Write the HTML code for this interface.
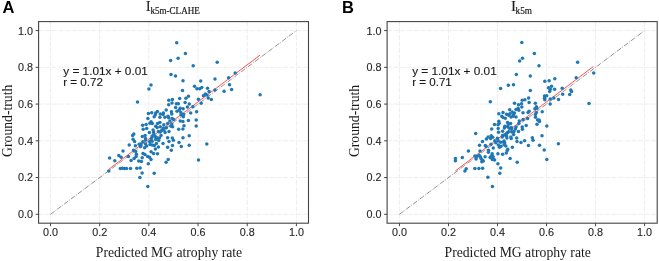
<!DOCTYPE html>
<html><head><meta charset="utf-8"><style>
*{margin:0;padding:0}
html,body{width:659px;height:261px;background:#fff;overflow:hidden}
svg{display:block;will-change:transform}
.g{stroke:#eeeeee;stroke-width:1.0;stroke-dasharray:5.2 1.4;fill:none}
.id{stroke:#777;stroke-width:0.8;stroke-dasharray:5.1 1.3 0.8 1.3;fill:none}
.rg{stroke:#ff3c3c;stroke-width:0.9;fill:none}
.box{fill:none;stroke:#444;stroke-width:1.1}
.tk{stroke:#444;stroke-width:1}
.dots circle{fill:#1f77b4}
.tl{font-family:"Liberation Sans",sans-serif;font-size:10.3px;fill:#262626;stroke:#262626;stroke-width:0.12}
.an{font-family:"Liberation Sans",sans-serif;font-size:10px;fill:#1a1a1a;stroke:#1a1a1a;stroke-width:0.12}
.ti{font-family:"Liberation Serif",serif;font-size:13.6px;fill:#1a1a1a;stroke:#1a1a1a;stroke-width:0.2}
.sub{font-size:9.6px}
.xl{font-family:"Liberation Serif",serif;font-size:13.7px;fill:#1a1a1a}
.yl{font-family:"Liberation Serif",serif;font-size:13.7px;fill:#1a1a1a}
.lt{font-family:"Liberation Sans",sans-serif;font-size:16.5px;font-weight:bold;fill:#000}
</style></head>
<body><svg width="659" height="261" viewBox="0 0 659 261">
<line x1="50.50" y1="21.60" x2="50.50" y2="223.20" class="g"/>
<line x1="38.60" y1="214.30" x2="308.50" y2="214.30" class="g"/>
<line x1="99.68" y1="21.60" x2="99.68" y2="223.20" class="g"/>
<line x1="38.60" y1="177.56" x2="308.50" y2="177.56" class="g"/>
<line x1="148.86" y1="21.60" x2="148.86" y2="223.20" class="g"/>
<line x1="38.60" y1="140.82" x2="308.50" y2="140.82" class="g"/>
<line x1="198.04" y1="21.60" x2="198.04" y2="223.20" class="g"/>
<line x1="38.60" y1="104.08" x2="308.50" y2="104.08" class="g"/>
<line x1="247.22" y1="21.60" x2="247.22" y2="223.20" class="g"/>
<line x1="38.60" y1="67.34" x2="308.50" y2="67.34" class="g"/>
<line x1="296.40" y1="21.60" x2="296.40" y2="223.20" class="g"/>
<line x1="38.60" y1="30.60" x2="308.50" y2="30.60" class="g"/>
<line x1="50.50" y1="214.30" x2="296.40" y2="30.60" class="id"/>
<line x1="108.90" y1="169.19" x2="260.01" y2="55.18" class="rg"/>
<g class="dots"><circle cx="176.7" cy="42.7" r="1.75"/><circle cx="185.4" cy="53.6" r="1.75"/><circle cx="178.1" cy="58.3" r="1.75"/><circle cx="170.6" cy="60.5" r="1.75"/><circle cx="193.2" cy="65.8" r="1.75"/><circle cx="217.2" cy="62.3" r="1.75"/><circle cx="171.0" cy="74.5" r="1.75"/><circle cx="175.5" cy="76.0" r="1.75"/><circle cx="183.0" cy="80.7" r="1.75"/><circle cx="200.7" cy="81.1" r="1.75"/><circle cx="215.0" cy="79.0" r="1.75"/><circle cx="151.0" cy="85.0" r="1.75"/><circle cx="148.9" cy="88.9" r="1.75"/><circle cx="235.2" cy="72.9" r="1.75"/><circle cx="228.6" cy="77.7" r="1.75"/><circle cx="229.5" cy="84.8" r="1.75"/><circle cx="231.6" cy="89.6" r="1.75"/><circle cx="224.1" cy="91.3" r="1.75"/><circle cx="214.9" cy="90.0" r="1.75"/><circle cx="260.1" cy="94.7" r="1.75"/><circle cx="194.5" cy="86.2" r="1.75"/><circle cx="196.9" cy="88.8" r="1.75"/><circle cx="199.7" cy="88.7" r="1.75"/><circle cx="201.8" cy="87.6" r="1.75"/><circle cx="207.5" cy="88.2" r="1.75"/><circle cx="209.1" cy="91.4" r="1.75"/><circle cx="182.5" cy="90.4" r="1.75"/><circle cx="188.4" cy="96.2" r="1.75"/><circle cx="185.9" cy="98.3" r="1.75"/><circle cx="179.7" cy="98.4" r="1.75"/><circle cx="198.4" cy="99.2" r="1.75"/><circle cx="203.4" cy="95.8" r="1.75"/><circle cx="205.4" cy="94.1" r="1.75"/><circle cx="207.0" cy="95.0" r="1.75"/><circle cx="208.2" cy="98.0" r="1.75"/><circle cx="211.3" cy="99.4" r="1.75"/><circle cx="137.5" cy="101.9" r="1.75"/><circle cx="168.8" cy="100.2" r="1.75"/><circle cx="172.4" cy="99.6" r="1.75"/><circle cx="172.0" cy="102.9" r="1.75"/><circle cx="168.7" cy="104.8" r="1.75"/><circle cx="176.4" cy="103.7" r="1.75"/><circle cx="178.3" cy="103.7" r="1.75"/><circle cx="185.1" cy="102.5" r="1.75"/><circle cx="175.6" cy="107.5" r="1.75"/><circle cx="180.2" cy="108.3" r="1.75"/><circle cx="183.1" cy="108.8" r="1.75"/><circle cx="166.2" cy="110.0" r="1.75"/><circle cx="171.4" cy="111.7" r="1.75"/><circle cx="171.8" cy="114.1" r="1.75"/><circle cx="177.0" cy="111.3" r="1.75"/><circle cx="179.1" cy="110.2" r="1.75"/><circle cx="180.9" cy="112.5" r="1.75"/><circle cx="148.4" cy="113.5" r="1.75"/><circle cx="151.7" cy="112.7" r="1.75"/><circle cx="155.7" cy="112.9" r="1.75"/><circle cx="157.4" cy="111.6" r="1.75"/><circle cx="160.3" cy="114.0" r="1.75"/><circle cx="163.4" cy="112.9" r="1.75"/><circle cx="155.3" cy="114.8" r="1.75"/><circle cx="163.0" cy="114.4" r="1.75"/><circle cx="168.0" cy="116.2" r="1.75"/><circle cx="183.6" cy="114.4" r="1.75"/><circle cx="189.3" cy="104.1" r="1.75"/><circle cx="201.2" cy="103.3" r="1.75"/><circle cx="187.4" cy="107.1" r="1.75"/><circle cx="192.8" cy="106.7" r="1.75"/><circle cx="190.7" cy="112.9" r="1.75"/><circle cx="196.6" cy="111.7" r="1.75"/><circle cx="147.9" cy="118.4" r="1.75"/><circle cx="154.2" cy="116.7" r="1.75"/><circle cx="159.9" cy="117.2" r="1.75"/><circle cx="164.9" cy="117.2" r="1.75"/><circle cx="168.7" cy="117.8" r="1.75"/><circle cx="172.2" cy="118.6" r="1.75"/><circle cx="173.7" cy="119.4" r="1.75"/><circle cx="181.0" cy="114.8" r="1.75"/><circle cx="183.3" cy="116.7" r="1.75"/><circle cx="151.1" cy="121.7" r="1.75"/><circle cx="149.9" cy="123.3" r="1.75"/><circle cx="152.3" cy="123.6" r="1.75"/><circle cx="142.6" cy="125.2" r="1.75"/><circle cx="146.1" cy="124.5" r="1.75"/><circle cx="157.6" cy="123.6" r="1.75"/><circle cx="159.9" cy="122.4" r="1.75"/><circle cx="155.7" cy="126.3" r="1.75"/><circle cx="157.2" cy="127.4" r="1.75"/><circle cx="160.3" cy="126.7" r="1.75"/><circle cx="163.8" cy="124.7" r="1.75"/><circle cx="167.6" cy="123.6" r="1.75"/><circle cx="169.9" cy="120.9" r="1.75"/><circle cx="171.8" cy="124.0" r="1.75"/><circle cx="171.0" cy="126.3" r="1.75"/><circle cx="172.6" cy="126.7" r="1.75"/><circle cx="180.2" cy="120.9" r="1.75"/><circle cx="182.9" cy="121.5" r="1.75"/><circle cx="184.0" cy="125.7" r="1.75"/><circle cx="163.4" cy="128.2" r="1.75"/><circle cx="166.4" cy="127.8" r="1.75"/><circle cx="178.7" cy="129.3" r="1.75"/><circle cx="182.9" cy="129.0" r="1.75"/><circle cx="188.4" cy="120.5" r="1.75"/><circle cx="196.2" cy="120.1" r="1.75"/><circle cx="196.2" cy="125.9" r="1.75"/><circle cx="133.8" cy="134.0" r="1.75"/><circle cx="132.6" cy="135.6" r="1.75"/><circle cx="133.1" cy="139.3" r="1.75"/><circle cx="134.6" cy="141.6" r="1.75"/><circle cx="129.2" cy="145.0" r="1.75"/><circle cx="135.4" cy="145.7" r="1.75"/><circle cx="139.2" cy="144.3" r="1.75"/><circle cx="172.3" cy="137.9" r="1.75"/><circle cx="173.4" cy="140.2" r="1.75"/><circle cx="172.5" cy="145.6" r="1.75"/><circle cx="171.3" cy="150.2" r="1.75"/><circle cx="151.1" cy="151.8" r="1.75"/><circle cx="133.6" cy="150.2" r="1.75"/><circle cx="135.7" cy="151.4" r="1.75"/><circle cx="189.2" cy="135.7" r="1.75"/><circle cx="183.0" cy="137.8" r="1.75"/><circle cx="179.0" cy="142.6" r="1.75"/><circle cx="189.2" cy="145.2" r="1.75"/><circle cx="181.3" cy="146.6" r="1.75"/><circle cx="206.8" cy="144.1" r="1.75"/><circle cx="123.0" cy="150.9" r="1.75"/><circle cx="109.6" cy="158.1" r="1.75"/><circle cx="114.8" cy="160.7" r="1.75"/><circle cx="118.8" cy="155.4" r="1.75"/><circle cx="121.1" cy="157.3" r="1.75"/><circle cx="128.4" cy="156.5" r="1.75"/><circle cx="136.4" cy="154.2" r="1.75"/><circle cx="136.1" cy="156.5" r="1.75"/><circle cx="134.1" cy="158.4" r="1.75"/><circle cx="131.1" cy="160.6" r="1.75"/><circle cx="138.7" cy="161.1" r="1.75"/><circle cx="141.4" cy="161.5" r="1.75"/><circle cx="143.0" cy="153.5" r="1.75"/><circle cx="144.9" cy="154.6" r="1.75"/><circle cx="142.2" cy="157.7" r="1.75"/><circle cx="147.6" cy="156.5" r="1.75"/><circle cx="149.5" cy="157.3" r="1.75"/><circle cx="151.0" cy="159.4" r="1.75"/><circle cx="153.6" cy="153.5" r="1.75"/><circle cx="148.3" cy="163.8" r="1.75"/><circle cx="157.5" cy="153.8" r="1.75"/><circle cx="168.2" cy="159.6" r="1.75"/><circle cx="166.1" cy="162.3" r="1.75"/><circle cx="198.5" cy="160.0" r="1.75"/><circle cx="108.8" cy="171.0" r="1.75"/><circle cx="120.3" cy="168.5" r="1.75"/><circle cx="122.3" cy="168.3" r="1.75"/><circle cx="124.3" cy="168.5" r="1.75"/><circle cx="126.5" cy="168.5" r="1.75"/><circle cx="130.5" cy="168.5" r="1.75"/><circle cx="136.8" cy="168.2" r="1.75"/><circle cx="140.1" cy="168.1" r="1.75"/><circle cx="142.1" cy="172.9" r="1.75"/><circle cx="139.9" cy="177.4" r="1.75"/><circle cx="154.2" cy="173.3" r="1.75"/><circle cx="147.8" cy="186.6" r="1.75"/><circle cx="143.2" cy="129.2" r="1.75"/><circle cx="146.7" cy="128.5" r="1.75"/><circle cx="149.4" cy="132.4" r="1.75"/><circle cx="153.1" cy="130.1" r="1.75"/><circle cx="153.6" cy="131.9" r="1.75"/><circle cx="153.8" cy="134.0" r="1.75"/><circle cx="152.2" cy="136.1" r="1.75"/><circle cx="151.5" cy="138.1" r="1.75"/><circle cx="155.2" cy="136.5" r="1.75"/><circle cx="157.0" cy="137.7" r="1.75"/><circle cx="158.4" cy="131.5" r="1.75"/><circle cx="160.3" cy="131.9" r="1.75"/><circle cx="161.7" cy="130.5" r="1.75"/><circle cx="164.0" cy="130.1" r="1.75"/><circle cx="165.1" cy="132.4" r="1.75"/><circle cx="163.5" cy="128.3" r="1.75"/><circle cx="161.0" cy="135.4" r="1.75"/><circle cx="159.4" cy="138.1" r="1.75"/><circle cx="169.0" cy="131.5" r="1.75"/><circle cx="167.6" cy="137.7" r="1.75"/><circle cx="142.3" cy="136.5" r="1.75"/><circle cx="145.1" cy="135.6" r="1.75"/><circle cx="145.5" cy="138.6" r="1.75"/><circle cx="145.5" cy="139.9" r="1.75"/><circle cx="142.8" cy="141.8" r="1.75"/><circle cx="140.9" cy="144.1" r="1.75"/><circle cx="140.6" cy="146.6" r="1.75"/><circle cx="144.6" cy="147.8" r="1.75"/><circle cx="145.5" cy="144.1" r="1.75"/><circle cx="146.7" cy="145.9" r="1.75"/><circle cx="149.7" cy="141.8" r="1.75"/><circle cx="151.1" cy="139.9" r="1.75"/><circle cx="152.2" cy="141.3" r="1.75"/><circle cx="150.1" cy="144.5" r="1.75"/><circle cx="152.2" cy="145.0" r="1.75"/><circle cx="154.3" cy="145.5" r="1.75"/><circle cx="155.7" cy="139.6" r="1.75"/><circle cx="158.7" cy="140.6" r="1.75"/><circle cx="156.4" cy="143.6" r="1.75"/><circle cx="158.4" cy="147.1" r="1.75"/><circle cx="155.4" cy="148.9" r="1.75"/><circle cx="163.0" cy="143.6" r="1.75"/><circle cx="167.6" cy="147.3" r="1.75"/><circle cx="169.0" cy="141.5" r="1.75"/></g>
<rect x="38.60" y="21.60" width="269.90" height="201.60" class="box"/>
<line x1="50.50" y1="223.20" x2="50.50" y2="226.20" class="tk"/>
<text x="43.00" y="235.90" class="tl" textLength="15.0" lengthAdjust="spacingAndGlyphs">0.0</text>
<line x1="35.60" y1="214.30" x2="38.60" y2="214.30" class="tk"/>
<text x="17.90" y="218.20" class="tl" textLength="15.0" lengthAdjust="spacingAndGlyphs">0.0</text>
<line x1="99.68" y1="223.20" x2="99.68" y2="226.20" class="tk"/>
<text x="92.18" y="235.90" class="tl" textLength="15.0" lengthAdjust="spacingAndGlyphs">0.2</text>
<line x1="35.60" y1="177.56" x2="38.60" y2="177.56" class="tk"/>
<text x="17.90" y="181.46" class="tl" textLength="15.0" lengthAdjust="spacingAndGlyphs">0.2</text>
<line x1="148.86" y1="223.20" x2="148.86" y2="226.20" class="tk"/>
<text x="141.36" y="235.90" class="tl" textLength="15.0" lengthAdjust="spacingAndGlyphs">0.4</text>
<line x1="35.60" y1="140.82" x2="38.60" y2="140.82" class="tk"/>
<text x="17.90" y="144.72" class="tl" textLength="15.0" lengthAdjust="spacingAndGlyphs">0.4</text>
<line x1="198.04" y1="223.20" x2="198.04" y2="226.20" class="tk"/>
<text x="190.54" y="235.90" class="tl" textLength="15.0" lengthAdjust="spacingAndGlyphs">0.6</text>
<line x1="35.60" y1="104.08" x2="38.60" y2="104.08" class="tk"/>
<text x="17.90" y="107.98" class="tl" textLength="15.0" lengthAdjust="spacingAndGlyphs">0.6</text>
<line x1="247.22" y1="223.20" x2="247.22" y2="226.20" class="tk"/>
<text x="239.72" y="235.90" class="tl" textLength="15.0" lengthAdjust="spacingAndGlyphs">0.8</text>
<line x1="35.60" y1="67.34" x2="38.60" y2="67.34" class="tk"/>
<text x="17.90" y="71.24" class="tl" textLength="15.0" lengthAdjust="spacingAndGlyphs">0.8</text>
<line x1="296.40" y1="223.20" x2="296.40" y2="226.20" class="tk"/>
<text x="288.90" y="235.90" class="tl" textLength="15.0" lengthAdjust="spacingAndGlyphs">1.0</text>
<line x1="35.60" y1="30.60" x2="38.60" y2="30.60" class="tk"/>
<text x="17.90" y="34.50" class="tl" textLength="15.0" lengthAdjust="spacingAndGlyphs">1.0</text>
<text x="63.30" y="74.6" class="an" textLength="84.5" lengthAdjust="spacingAndGlyphs">y = 1.01x + 0.01</text>
<text x="63.30" y="85.9" class="an" textLength="39.6" lengthAdjust="spacingAndGlyphs">r = 0.72</text>
<text x="146.10" y="10.9" class="ti">I</text>
<text x="150.40" y="13.70" class="ti sub" textLength="49.4" lengthAdjust="spacingAndGlyphs">k5m-CLAHE</text>
<text x="169.00" y="256.9" class="xl" text-anchor="middle">Predicted MG atrophy rate</text>
<text transform="translate(11.50,120.80) rotate(-90)" class="yl" text-anchor="middle">Ground-truth</text>
<text x="2.6" y="13.4" class="lt">A</text>
<line x1="399.45" y1="21.60" x2="399.45" y2="223.20" class="g"/>
<line x1="387.10" y1="214.30" x2="657.20" y2="214.30" class="g"/>
<line x1="448.48" y1="21.60" x2="448.48" y2="223.20" class="g"/>
<line x1="387.10" y1="177.56" x2="657.20" y2="177.56" class="g"/>
<line x1="497.51" y1="21.60" x2="497.51" y2="223.20" class="g"/>
<line x1="387.10" y1="140.82" x2="657.20" y2="140.82" class="g"/>
<line x1="546.54" y1="21.60" x2="546.54" y2="223.20" class="g"/>
<line x1="387.10" y1="104.08" x2="657.20" y2="104.08" class="g"/>
<line x1="595.57" y1="21.60" x2="595.57" y2="223.20" class="g"/>
<line x1="387.10" y1="67.34" x2="657.20" y2="67.34" class="g"/>
<line x1="644.60" y1="21.60" x2="644.60" y2="223.20" class="g"/>
<line x1="387.10" y1="30.60" x2="657.20" y2="30.60" class="g"/>
<line x1="399.45" y1="214.30" x2="644.60" y2="30.60" class="id"/>
<line x1="455.34" y1="170.95" x2="593.36" y2="66.49" class="rg"/>
<g class="dots"><circle cx="521.8" cy="42.5" r="1.75"/><circle cx="534.4" cy="53.5" r="1.75"/><circle cx="522.5" cy="58.2" r="1.75"/><circle cx="519.6" cy="60.9" r="1.75"/><circle cx="539.0" cy="65.8" r="1.75"/><circle cx="577.6" cy="62.2" r="1.75"/><circle cx="516.3" cy="74.6" r="1.75"/><circle cx="530.3" cy="76.1" r="1.75"/><circle cx="508.3" cy="85.3" r="1.75"/><circle cx="513.5" cy="84.8" r="1.75"/><circle cx="500.6" cy="88.5" r="1.75"/><circle cx="530.3" cy="90.5" r="1.75"/><circle cx="544.8" cy="81.3" r="1.75"/><circle cx="549.1" cy="80.7" r="1.75"/><circle cx="554.8" cy="78.8" r="1.75"/><circle cx="576.2" cy="77.8" r="1.75"/><circle cx="593.7" cy="72.9" r="1.75"/><circle cx="551.5" cy="86.2" r="1.75"/><circle cx="548.5" cy="87.8" r="1.75"/><circle cx="550.3" cy="89.3" r="1.75"/><circle cx="549.7" cy="91.5" r="1.75"/><circle cx="554.6" cy="89.3" r="1.75"/><circle cx="562.2" cy="88.3" r="1.75"/><circle cx="570.8" cy="90.0" r="1.75"/><circle cx="571.5" cy="91.4" r="1.75"/><circle cx="562.7" cy="94.2" r="1.75"/><circle cx="569.7" cy="94.6" r="1.75"/><circle cx="544.5" cy="96.1" r="1.75"/><circle cx="546.7" cy="95.8" r="1.75"/><circle cx="528.6" cy="98.1" r="1.75"/><circle cx="553.9" cy="98.0" r="1.75"/><circle cx="589.0" cy="103.6" r="1.75"/><circle cx="490.3" cy="101.8" r="1.75"/><circle cx="514.5" cy="103.3" r="1.75"/><circle cx="518.5" cy="104.8" r="1.75"/><circle cx="509.7" cy="109.8" r="1.75"/><circle cx="516.0" cy="109.4" r="1.75"/><circle cx="518.1" cy="108.3" r="1.75"/><circle cx="498.8" cy="113.8" r="1.75"/><circle cx="503.0" cy="112.5" r="1.75"/><circle cx="506.6" cy="114.2" r="1.75"/><circle cx="509.9" cy="113.8" r="1.75"/><circle cx="512.2" cy="112.1" r="1.75"/><circle cx="514.5" cy="112.9" r="1.75"/><circle cx="513.3" cy="114.8" r="1.75"/><circle cx="508.7" cy="115.2" r="1.75"/><circle cx="544.8" cy="99.8" r="1.75"/><circle cx="544.5" cy="98.3" r="1.75"/><circle cx="550.2" cy="99.1" r="1.75"/><circle cx="558.5" cy="99.5" r="1.75"/><circle cx="550.2" cy="104.1" r="1.75"/><circle cx="522.2" cy="100.2" r="1.75"/><circle cx="524.9" cy="99.7" r="1.75"/><circle cx="529.1" cy="102.5" r="1.75"/><circle cx="521.5" cy="103.7" r="1.75"/><circle cx="521.8" cy="107.1" r="1.75"/><circle cx="518.8" cy="110.2" r="1.75"/><circle cx="535.3" cy="103.3" r="1.75"/><circle cx="536.4" cy="106.7" r="1.75"/><circle cx="534.9" cy="108.8" r="1.75"/><circle cx="536.8" cy="108.3" r="1.75"/><circle cx="542.2" cy="111.7" r="1.75"/><circle cx="529.1" cy="111.3" r="1.75"/><circle cx="528.0" cy="112.5" r="1.75"/><circle cx="523.0" cy="112.7" r="1.75"/><circle cx="536.4" cy="112.5" r="1.75"/><circle cx="535.4" cy="114.4" r="1.75"/><circle cx="501.8" cy="116.3" r="1.75"/><circle cx="503.0" cy="117.5" r="1.75"/><circle cx="505.3" cy="118.2" r="1.75"/><circle cx="511.0" cy="117.1" r="1.75"/><circle cx="513.3" cy="116.3" r="1.75"/><circle cx="516.0" cy="117.1" r="1.75"/><circle cx="498.8" cy="121.3" r="1.75"/><circle cx="499.1" cy="123.2" r="1.75"/><circle cx="494.5" cy="124.4" r="1.75"/><circle cx="498.0" cy="124.7" r="1.75"/><circle cx="507.6" cy="122.4" r="1.75"/><circle cx="510.6" cy="123.6" r="1.75"/><circle cx="508.3" cy="124.4" r="1.75"/><circle cx="519.3" cy="121.1" r="1.75"/><circle cx="504.9" cy="126.3" r="1.75"/><circle cx="504.4" cy="128.1" r="1.75"/><circle cx="507.6" cy="126.7" r="1.75"/><circle cx="509.4" cy="128.2" r="1.75"/><circle cx="511.4" cy="127.4" r="1.75"/><circle cx="511.4" cy="128.9" r="1.75"/><circle cx="516.0" cy="127.0" r="1.75"/><circle cx="515.4" cy="128.9" r="1.75"/><circle cx="498.2" cy="128.6" r="1.75"/><circle cx="491.7" cy="129.1" r="1.75"/><circle cx="498.5" cy="132.2" r="1.75"/><circle cx="502.6" cy="131.2" r="1.75"/><circle cx="507.6" cy="132.4" r="1.75"/><circle cx="511.8" cy="132.0" r="1.75"/><circle cx="513.9" cy="131.4" r="1.75"/><circle cx="518.5" cy="131.4" r="1.75"/><circle cx="475.7" cy="133.6" r="1.75"/><circle cx="535.5" cy="117.2" r="1.75"/><circle cx="537.6" cy="120.1" r="1.75"/><circle cx="539.1" cy="120.1" r="1.75"/><circle cx="539.5" cy="121.5" r="1.75"/><circle cx="537.0" cy="124.2" r="1.75"/><circle cx="546.8" cy="125.9" r="1.75"/><circle cx="527.6" cy="118.6" r="1.75"/><circle cx="523.0" cy="119.4" r="1.75"/><circle cx="518.8" cy="123.6" r="1.75"/><circle cx="526.2" cy="125.5" r="1.75"/><circle cx="522.2" cy="127.0" r="1.75"/><circle cx="522.4" cy="129.2" r="1.75"/><circle cx="508.7" cy="131.7" r="1.75"/><circle cx="506.6" cy="133.5" r="1.75"/><circle cx="513.6" cy="134.4" r="1.75"/><circle cx="502.6" cy="135.6" r="1.75"/><circle cx="504.4" cy="135.1" r="1.75"/><circle cx="506.6" cy="136.0" r="1.75"/><circle cx="502.3" cy="136.9" r="1.75"/><circle cx="510.9" cy="136.9" r="1.75"/><circle cx="511.2" cy="138.4" r="1.75"/><circle cx="506.9" cy="138.1" r="1.75"/><circle cx="516.7" cy="138.1" r="1.75"/><circle cx="491.2" cy="135.8" r="1.75"/><circle cx="492.7" cy="137.3" r="1.75"/><circle cx="490.6" cy="138.4" r="1.75"/><circle cx="497.4" cy="138.2" r="1.75"/><circle cx="494.8" cy="140.7" r="1.75"/><circle cx="498.2" cy="140.8" r="1.75"/><circle cx="500.6" cy="142.2" r="1.75"/><circle cx="504.1" cy="140.9" r="1.75"/><circle cx="504.7" cy="142.7" r="1.75"/><circle cx="495.8" cy="142.7" r="1.75"/><circle cx="517.0" cy="141.5" r="1.75"/><circle cx="521.0" cy="142.6" r="1.75"/><circle cx="524.6" cy="140.7" r="1.75"/><circle cx="542.0" cy="135.7" r="1.75"/><circle cx="532.3" cy="137.8" r="1.75"/><circle cx="533.0" cy="140.2" r="1.75"/><circle cx="558.4" cy="143.8" r="1.75"/><circle cx="544.2" cy="149.9" r="1.75"/><circle cx="488.1" cy="136.9" r="1.75"/><circle cx="486.4" cy="139.1" r="1.75"/><circle cx="482.5" cy="141.6" r="1.75"/><circle cx="479.5" cy="145.2" r="1.75"/><circle cx="485.3" cy="145.4" r="1.75"/><circle cx="486.1" cy="146.6" r="1.75"/><circle cx="491.0" cy="144.3" r="1.75"/><circle cx="493.3" cy="147.9" r="1.75"/><circle cx="503.3" cy="142.0" r="1.75"/><circle cx="498.3" cy="145.0" r="1.75"/><circle cx="501.0" cy="146.2" r="1.75"/><circle cx="499.5" cy="147.3" r="1.75"/><circle cx="504.1" cy="144.8" r="1.75"/><circle cx="468.4" cy="151.0" r="1.75"/><circle cx="480.0" cy="150.9" r="1.75"/><circle cx="488.5" cy="150.3" r="1.75"/><circle cx="528.4" cy="145.5" r="1.75"/><circle cx="539.5" cy="145.2" r="1.75"/><circle cx="512.3" cy="147.3" r="1.75"/><circle cx="507.7" cy="149.2" r="1.75"/><circle cx="506.3" cy="153.0" r="1.75"/><circle cx="502.6" cy="154.3" r="1.75"/><circle cx="510.1" cy="158.5" r="1.75"/><circle cx="546.8" cy="159.6" r="1.75"/><circle cx="505.8" cy="146.1" r="1.75"/><circle cx="488.4" cy="152.3" r="1.75"/><circle cx="462.3" cy="157.6" r="1.75"/><circle cx="455.4" cy="158.4" r="1.75"/><circle cx="455.4" cy="160.7" r="1.75"/><circle cx="474.9" cy="156.1" r="1.75"/><circle cx="476.8" cy="156.4" r="1.75"/><circle cx="476.1" cy="159.1" r="1.75"/><circle cx="479.1" cy="155.3" r="1.75"/><circle cx="480.3" cy="156.8" r="1.75"/><circle cx="481.0" cy="158.4" r="1.75"/><circle cx="482.2" cy="159.9" r="1.75"/><circle cx="483.3" cy="161.0" r="1.75"/><circle cx="481.8" cy="161.8" r="1.75"/><circle cx="485.1" cy="156.8" r="1.75"/><circle cx="492.2" cy="153.7" r="1.75"/><circle cx="491.0" cy="156.4" r="1.75"/><circle cx="490.1" cy="157.6" r="1.75"/><circle cx="493.1" cy="156.7" r="1.75"/><circle cx="493.3" cy="158.7" r="1.75"/><circle cx="491.9" cy="155.4" r="1.75"/><circle cx="492.3" cy="159.6" r="1.75"/><circle cx="494.6" cy="160.1" r="1.75"/><circle cx="497.9" cy="153.8" r="1.75"/><circle cx="507.2" cy="150.4" r="1.75"/><circle cx="517.2" cy="162.3" r="1.75"/><circle cx="497.9" cy="163.7" r="1.75"/><circle cx="500.7" cy="168.0" r="1.75"/><circle cx="466.2" cy="168.8" r="1.75"/><circle cx="464.9" cy="171.1" r="1.75"/><circle cx="474.9" cy="168.4" r="1.75"/><circle cx="478.9" cy="168.4" r="1.75"/><circle cx="482.6" cy="168.2" r="1.75"/><circle cx="487.9" cy="177.2" r="1.75"/><circle cx="499.8" cy="173.2" r="1.75"/><circle cx="492.4" cy="186.6" r="1.75"/></g>
<rect x="387.10" y="21.60" width="270.10" height="201.60" class="box"/>
<line x1="399.45" y1="223.20" x2="399.45" y2="226.20" class="tk"/>
<text x="391.95" y="235.90" class="tl" textLength="15.0" lengthAdjust="spacingAndGlyphs">0.0</text>
<line x1="384.10" y1="214.30" x2="387.10" y2="214.30" class="tk"/>
<text x="366.40" y="218.20" class="tl" textLength="15.0" lengthAdjust="spacingAndGlyphs">0.0</text>
<line x1="448.48" y1="223.20" x2="448.48" y2="226.20" class="tk"/>
<text x="440.98" y="235.90" class="tl" textLength="15.0" lengthAdjust="spacingAndGlyphs">0.2</text>
<line x1="384.10" y1="177.56" x2="387.10" y2="177.56" class="tk"/>
<text x="366.40" y="181.46" class="tl" textLength="15.0" lengthAdjust="spacingAndGlyphs">0.2</text>
<line x1="497.51" y1="223.20" x2="497.51" y2="226.20" class="tk"/>
<text x="490.01" y="235.90" class="tl" textLength="15.0" lengthAdjust="spacingAndGlyphs">0.4</text>
<line x1="384.10" y1="140.82" x2="387.10" y2="140.82" class="tk"/>
<text x="366.40" y="144.72" class="tl" textLength="15.0" lengthAdjust="spacingAndGlyphs">0.4</text>
<line x1="546.54" y1="223.20" x2="546.54" y2="226.20" class="tk"/>
<text x="539.04" y="235.90" class="tl" textLength="15.0" lengthAdjust="spacingAndGlyphs">0.6</text>
<line x1="384.10" y1="104.08" x2="387.10" y2="104.08" class="tk"/>
<text x="366.40" y="107.98" class="tl" textLength="15.0" lengthAdjust="spacingAndGlyphs">0.6</text>
<line x1="595.57" y1="223.20" x2="595.57" y2="226.20" class="tk"/>
<text x="588.07" y="235.90" class="tl" textLength="15.0" lengthAdjust="spacingAndGlyphs">0.8</text>
<line x1="384.10" y1="67.34" x2="387.10" y2="67.34" class="tk"/>
<text x="366.40" y="71.24" class="tl" textLength="15.0" lengthAdjust="spacingAndGlyphs">0.8</text>
<line x1="644.60" y1="223.20" x2="644.60" y2="226.20" class="tk"/>
<text x="637.10" y="235.90" class="tl" textLength="15.0" lengthAdjust="spacingAndGlyphs">1.0</text>
<line x1="384.10" y1="30.60" x2="387.10" y2="30.60" class="tk"/>
<text x="366.40" y="34.50" class="tl" textLength="15.0" lengthAdjust="spacingAndGlyphs">1.0</text>
<text x="412.21" y="74.6" class="an" textLength="84.5" lengthAdjust="spacingAndGlyphs">y = 1.01x + 0.01</text>
<text x="412.21" y="85.9" class="an" textLength="39.6" lengthAdjust="spacingAndGlyphs">r = 0.71</text>
<text x="511.30" y="10.9" class="ti">I</text>
<text x="515.60" y="13.70" class="ti sub" textLength="16.4" lengthAdjust="spacingAndGlyphs">k5m</text>
<text x="517.70" y="256.9" class="xl" text-anchor="middle">Predicted MG atrophy rate</text>
<text transform="translate(359.20,121.00) rotate(-90)" class="yl" text-anchor="middle">Ground-truth</text>
<text x="342.0" y="13.4" class="lt">B</text>
</svg></body></html>
